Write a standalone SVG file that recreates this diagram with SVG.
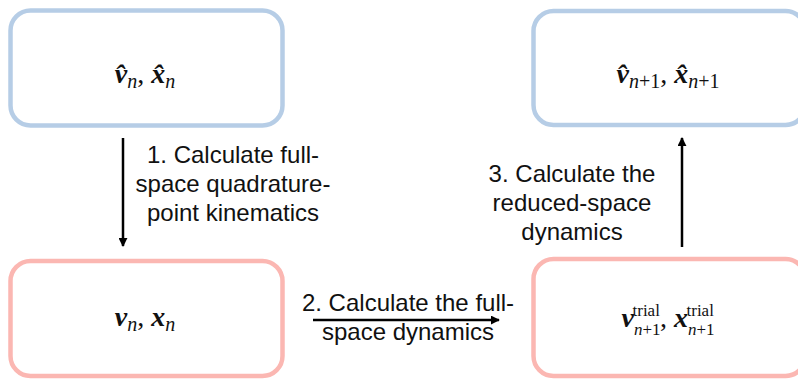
<svg xmlns="http://www.w3.org/2000/svg" width="798" height="379" viewBox="0 0 798 379">
<style>
.blue{fill:#fff;stroke:#b6cde6;stroke-width:4.5}
.pink{fill:#fff;stroke:#fbb7b2;stroke-width:4.5}
.lbl{font-family:"Liberation Sans",Arial,sans-serif;font-size:24px;fill:#111;text-anchor:middle}
.m{font-family:"Liberation Serif","DejaVu Serif",serif;font-size:28px;fill:#111;text-anchor:middle}
.bv{font-weight:bold;font-style:italic}
.sub{font-size:20px}
.it{font-style:italic}
.s2{font-size:17px}
.conn{stroke:#000;stroke-width:2.5;fill:none}
</style>
<defs>
<marker id="ah" viewBox="0 0 10 10" refX="9" refY="5" markerWidth="3.6" markerHeight="3.6" orient="auto" markerUnits="strokeWidth">
<path d="M0,0 L10,5 L0,10 Z" fill="#000"/>
</marker>
</defs>
<g id="node-vhat-n">
<rect class="blue" x="10.5" y="10.5" width="272" height="115" rx="20"/>
<text class="m" x="145" y="83"><tspan class="bv">v̂</tspan><tspan class="sub it" dy="5">n</tspan><tspan dy="-5">, </tspan><tspan class="bv">x̂</tspan><tspan class="sub it" dy="5">n</tspan></text>
</g>
<g id="node-vhat-n1">
<rect class="blue" x="533.5" y="11" width="272" height="114" rx="20"/>
<text class="m" x="668" y="83"><tspan class="bv">v̂</tspan><tspan class="sub" dy="5"><tspan class="it">n</tspan>+1</tspan><tspan dy="-5">, </tspan><tspan class="bv">x̂</tspan><tspan class="sub" dy="5"><tspan class="it">n</tspan>+1</tspan></text>
</g>
<g id="node-v-n">
<rect class="pink" x="10.5" y="261" width="272" height="115" rx="20"/>
<text class="m" x="145" y="326"><tspan class="bv">v</tspan><tspan class="sub it" dy="5">n</tspan><tspan dy="-5">, </tspan><tspan class="bv">x</tspan><tspan class="sub it" dy="5">n</tspan></text>
</g>
<g id="node-v-trial">
<rect class="pink" x="533.5" y="259" width="272" height="117" rx="20"/>
<text class="m" x="668" y="327"><tspan class="bv">v</tspan><tspan class="s2" dy="8"><tspan class="it">n</tspan>+1</tspan><tspan class="s2" dx="-28" dy="-19">trial</tspan><tspan dy="11">, </tspan><tspan class="bv">x</tspan><tspan class="s2" dy="8"><tspan class="it">n</tspan>+1</tspan><tspan class="s2" dx="-28" dy="-19">trial</tspan></text>
</g>
<g id="connectors">
<line class="conn" x1="123" y1="138" x2="123" y2="246" marker-end="url(#ah)"/>
<line class="conn" x1="313" y1="320" x2="499" y2="320" marker-end="url(#ah)"/>
<line class="conn" x1="682" y1="247" x2="682" y2="138" marker-end="url(#ah)"/>
</g>
<g id="labels">
<text class="lbl"><tspan x="233" y="163">1. Calculate full-</tspan><tspan x="233" y="192">space quadrature-</tspan><tspan x="233" y="221">point kinematics</tspan></text>
<text class="lbl"><tspan x="408" y="311">2. Calculate the full-</tspan><tspan x="408" y="340">space dynamics</tspan></text>
<text class="lbl"><tspan x="572" y="182">3. Calculate the</tspan><tspan x="572" y="211">reduced-space</tspan><tspan x="572" y="240">dynamics</tspan></text>
</g>
</svg>
